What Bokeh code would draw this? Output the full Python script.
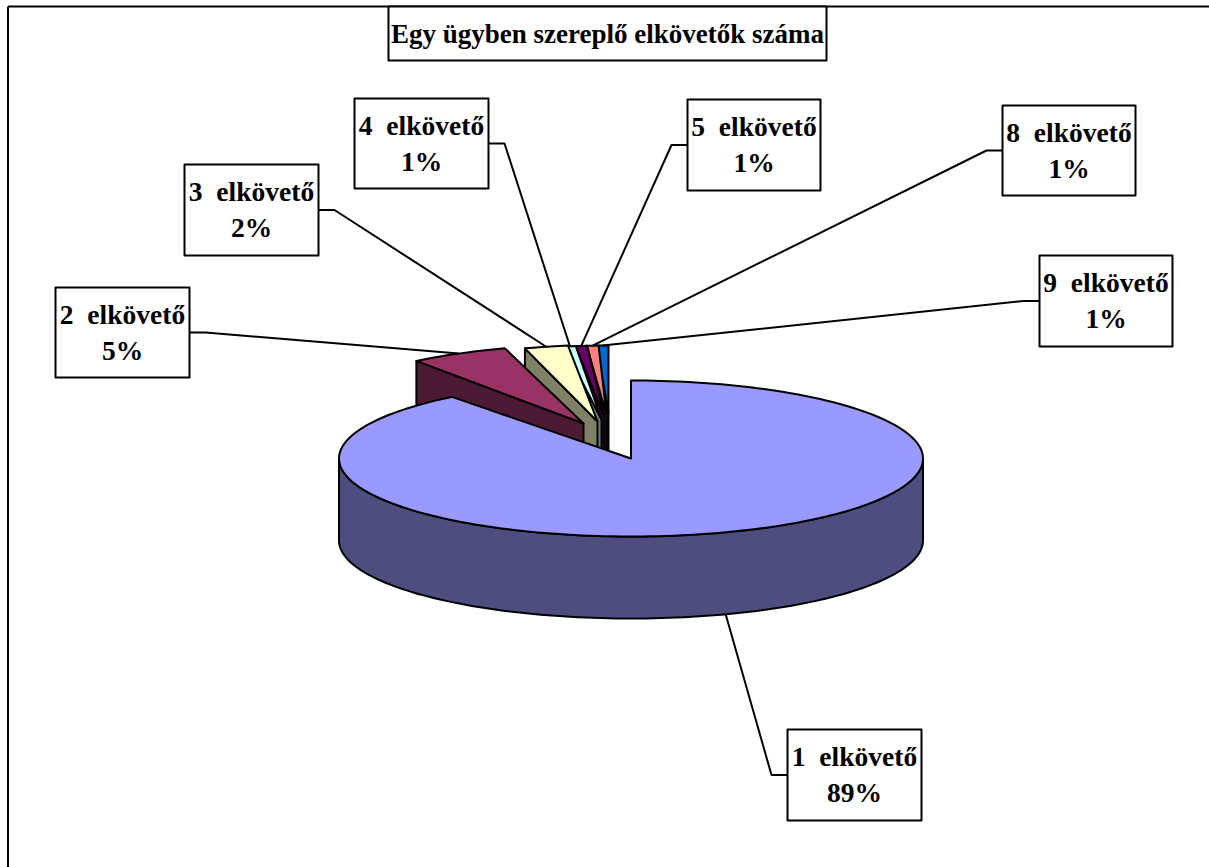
import math
from bokeh.plotting import figure
from bokeh.models import Range1d
from bokeh.core.properties import value
from bokeh.embed import file_html
from bokeh.resources import INLINE

# Share of cases by number of offenders per case (percent)
title = "Egy ügyben szereplő elkövetők száma"
offenders = [1, 2, 3, 4, 5, 8, 9]
shares = [89.49, 5.49, 2.42, 0.65, 0.65, 0.65, 0.65]

top_colors = ["#9999ff", "#993366", "#ffffcc", "#ccffff", "#660066", "#ff8080", "#0066cc"]
side_colors = ["#4d4d80", "#4d1a33", "#808066", "#668080", "#330033", "#804040", "#003366"]

# Pie geometry in page pixels
CX, CY, RX, RY, DEPTH = 630.5, 458, 292, 78, 82
# Ellipse centre of each slice's rim once pulled out of the pie, and the slice's inner tip
rim_centres = [(630.5, 458), (595, 422), (615, 422), (611, 423), (610.5, 423), (610, 423), (608, 423)]
tips = [(630.5, 458), (583, 423), (597, 421), (601, 419), (604, 416), (606, 414), (608, 412)]
# Label boxes: left, right, top, bottom, side the leader leaves from
boxes = [
    (787, 921, 729, 820, "left"),
    (55, 189, 287, 377, "right"),
    (184, 318, 164, 255, "right"),
    (354, 488, 98, 188, "right"),
    (687, 820, 99, 190, "left"),
    (1002, 1135, 105, 195, "left"),
    (1039, 1172, 255, 346, "left"),
]
ELBOW = 16

p = figure(width=1209, height=867, output_backend="svg", toolbar_location=None,
           x_range=Range1d(0, 1209), y_range=Range1d(867, 0),
           min_border=0, outline_line_color=None, background_fill_color="white")
p.axis.visible = False
p.grid.visible = False


def rim(ax, ay, start, stop, steps=60):
    n = max(2, int(abs(stop - start) / 360 * steps * 4))
    angles = [math.radians(start + (stop - start) * i / n) for i in range(n + 1)]
    return [ax + RX * math.sin(a) for a in angles], [ay - RY * math.cos(a) for a in angles]


# Cumulative angles clockwise from twelve o'clock
ranges = []
acc = 0.0
for s in shares:
    ranges.append((acc, acc + s * 3.6))
    acc += s * 3.6

STROKE = dict(line_color="black", line_width=2, line_join="round")

# Pulled-out slices, right to left so each covers the cut face of its neighbour
for i in range(len(shares) - 1, 0, -1):
    start, stop = ranges[i]
    ax, ay = rim_centres[i]
    tx, ty = tips[i]
    rx0 = ax + RX * math.sin(math.radians(start))
    ry0 = ay - RY * math.cos(math.radians(start))
    p.patch([rx0, tx, tx, rx0], [ry0, ty, ty + DEPTH, ry0 + DEPTH],
            fill_color=side_colors[i], **STROKE)
    xs, ys = rim(ax, ay, start, stop)
    p.patch([tx] + xs, [ty] + ys, fill_color=top_colors[i], **STROKE)

# Main slice: outer wall, then its top
start, stop = ranges[0]
xs, ys = rim(CX, CY, 90, 270)
p.patch(xs + xs[::-1], ys + [y + DEPTH for y in ys[::-1]], fill_color=side_colors[0], **STROKE)
xs, ys = rim(CX, CY, start, stop)
p.patch([CX] + xs, [CY] + ys, fill_color=top_colors[0], **STROKE)

# Leader lines run from the middle of each slice's rim to its label
for i, (l, r, t, b, side) in enumerate(boxes):
    mid = math.radians(sum(ranges[i]) / 2)
    ax, ay = rim_centres[i]
    ex = ax + RX * math.sin(mid)
    ey = ay - RY * math.cos(mid) + (DEPTH if i == 0 else 0)
    edge = l if side == "left" else r
    elbow = edge - ELBOW if side == "left" else edge + ELBOW
    ym = t + (b - t) * 0.5
    p.line([ex, elbow, edge], [ey, ym, ym], line_color="black", line_width=2)

# Chart frame, open on the far sides
p.line([7.5, 7.5], [6, 867], line_color="black", line_width=2)
p.line([7.5, 1209], [6, 6], line_color="black", line_width=2)

# Title and data labels
SERIF = value("Liberation Serif")
p.quad(left=[388], right=[826], top=[6], bottom=[60], fill_color="white", **STROKE)
p.text(x=[607], y=[33], text=[title], text_font=SERIF, text_font_style="bold",
       text_font_size="27px", text_align="center", text_baseline="alphabetic", text_color="black")

for n, s, (l, r, t, b, _) in zip(offenders, shares, boxes):
    p.quad(left=[l], right=[r], top=[t], bottom=[b], fill_color="white", **STROKE)
    cx = (l + r) / 2
    p.text(x=[cx], y=[t + 27], text=[f"{n} \u00a0elkövető"], text_font=SERIF, text_font_style="bold",
           text_font_size="27.5px", text_align="center", text_baseline="alphabetic", text_color="black")
    p.text(x=[cx], y=[t + 63], text=[f"{round(s)}%"], text_font=SERIF, text_font_style="bold",
           text_font_size="27.5px", text_align="center", text_baseline="alphabetic", text_color="black")

open("out.html", "w").write(file_html(p, INLINE))
